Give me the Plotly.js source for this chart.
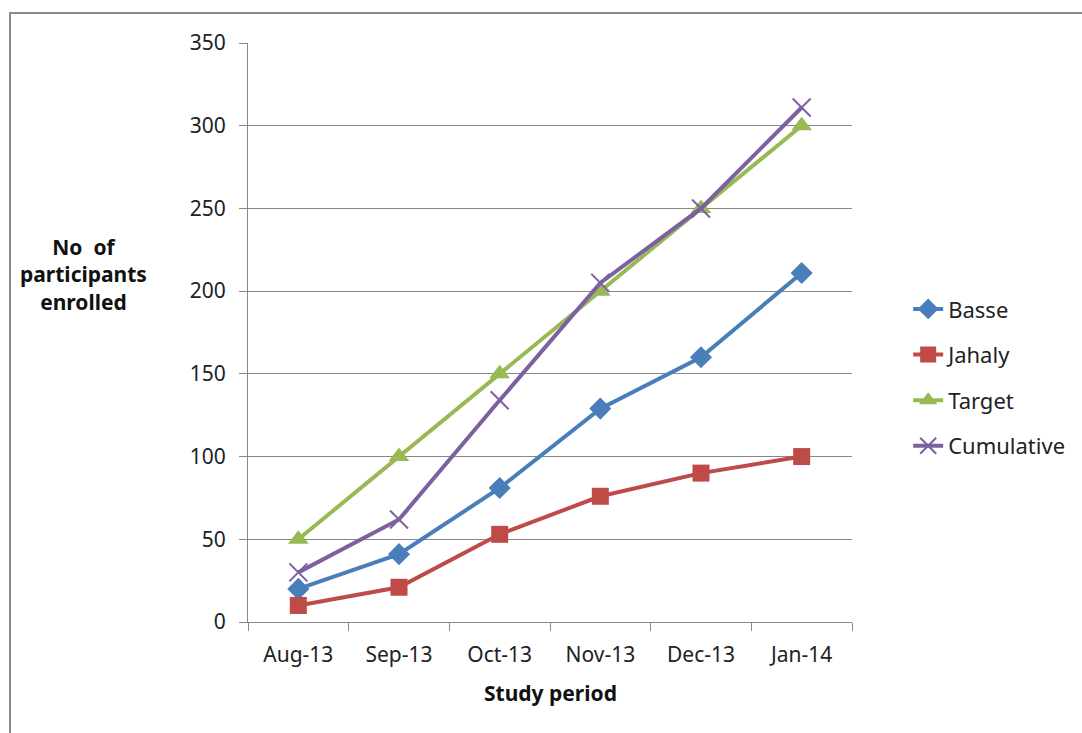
<!DOCTYPE html>
<html>
<head>
<meta charset="utf-8">
<script src="https://cdn.plot.ly/plotly-3.0.1.min.js"></script>
<style>
html,body{margin:0;padding:0;background:#fff;}
#wrap{position:relative;width:1082px;height:733px;overflow:hidden;}
#chart{position:absolute;left:0;top:0;width:1082px;height:733px;}
#frame{position:absolute;left:9px;top:12px;width:1080px;height:730px;border:2px solid #8a8a8a;pointer-events:none;box-sizing:border-box;}
</style>
</head>
<body>
<div id="wrap"><div id="chart"></div><div id="frame"></div></div>
<script>
const categories = ["Aug-13","Sep-13","Oct-13","Nov-13","Dec-13","Jan-14"];
const basse = [20, 41, 81, 129, 160, 211];
const jahaly = [10, 21, 53, 76, 90, 100];
const target = [50, 100, 150, 200, 250, 300];
const cumulative = [30, 62, 134, 205, 250, 311];

const font = "Noto Sans, Open Sans, sans-serif";
function tr(name, y, color, symbol, size, grp){
  return {x: categories, y: y, name: name, type: "scatter", mode: "lines+markers",
    legendgroup: grp,
    line: {color: color, width: 4},
    marker: {symbol: symbol, size: size, color: color,
      line: {color: color, width: symbol === "x-thin" ? 2 : 0}}};
}
const data = [
  tr("Basse", basse, "#4A7EBB", "diamond", 17, "a"),
  tr("Jahaly", jahaly, "#BE4B48", "square", 17, "b"),
  tr("Target", target, "#98B954", "triangle-up", 18, "c"),
  tr("Cumulative", cumulative, "#7D60A0", "x-thin", 18, "d")
];
const layout = {
  width: 1082, height: 733,
  margin: {l: 248, r: 230, t: 43, b: 111},
  paper_bgcolor: "#fff", plot_bgcolor: "#fff",
  font: {family: font, size: 21, color: "#222"},
  xaxis: {type: "category", range: [-0.5, 5.5], tickson: "boundaries",
    ticks: "outside", ticklen: 8, tickcolor: "#888", showline: true,
    linecolor: "#888", linewidth: 1, showgrid: false, zeroline: false,
    ticklabelstandoff: 14,
    tickfont: {size: 21}, title: {text: ""}},
  yaxis: {range: [0, 350], dtick: 50, ticks: "outside", ticklen: 8,
    tickcolor: "#888", showline: true, linecolor: "#888", linewidth: 1,
    gridcolor: "#888", gridwidth: 1, zeroline: false, ticklabelstandoff: 9,
    tickfont: {size: 21}, title: {text: ""}},
  legend: {x: 1.093, xanchor: "left", xref: "paper", y: 0.422, yanchor: "middle",
    font: {size: 22}, traceorder: "grouped", tracegroupgap: 14,
    bgcolor: "rgba(0,0,0,0)"},
  annotations: [
    {text: "<b>No  of<br>participants<br>enrolled</b>", xref: "paper", yref: "paper",
      x: -0.273, y: 0.6, xanchor: "center", yanchor: "middle", showarrow: false,
      font: {size: 21, color: "#111"}, align: "center"},
    {text: "<b>Study period</b>", xref: "paper", yref: "paper",
      x: 0.5, y: -0.123, xanchor: "center", yanchor: "middle", showarrow: false,
      font: {size: 21, color: "#111"}}
  ],
  showlegend: true
};
Plotly.newPlot("chart", data, layout, {displayModeBar: false, staticPlot: true});
</script>
</body>
</html>
